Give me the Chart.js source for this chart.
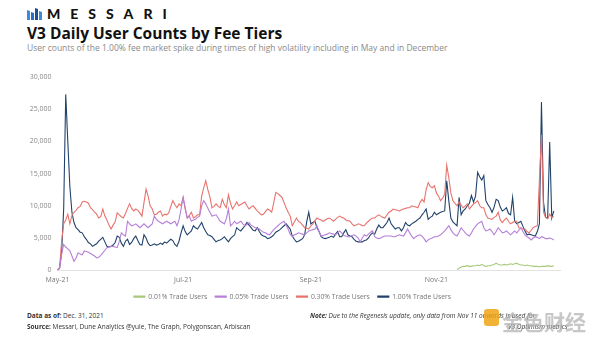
<!DOCTYPE html>
<html>
<head>
<meta charset="utf-8">
<script src="https://cdn.jsdelivr.net/npm/chart.js@4.4.1/dist/chart.umd.min.js"></script>
<style>
  body { margin: 0; background: #fff; font-family: "Open Sans", sans-serif; }
  #page { position: relative; width: 600px; height: 338px; overflow: hidden; }
  .abs { position: absolute; white-space: nowrap; }
  #brand { left: 47px; top: 5px; font: 900 14px Lato, sans-serif; letter-spacing: 10px; color: #111; }
  #title { left: 27px; top: 22px; font-weight: 700; font-size: 15.5px; color: #111; }
  #subtitle { left: 27px; top: 42px; font-size: 8.5px; color: #8a8a8a; }
  #chartBox { left: 0; top: 62px; width: 600px; height: 248px; }
  .foot { font-size: 6.5px; color: #333; }
  #wm { top: 306px; font: 700 21px "Noto Sans CJK SC", sans-serif; color: rgba(175,175,175,0.7); }
</style>
</head>
<body>
<div id="page">
  <svg class="abs" style="left:27px;top:8px" width="16" height="12" viewBox="0 0 16 12">
    <polygon points="0,2 3,3 3,12 0,12" fill="#3a8be0"/>
    <polygon points="4,4 7,5 7,12 4,12" fill="#2a6fc4"/>
    <polygon points="8,0 11,1 11,12 8,12" fill="#1c4f96"/>
    <polygon points="12,3 15,4 15,12 12,12" fill="#3a8be0"/>
  </svg>
  <div class="abs" id="brand">MESSARI</div>
  <div class="abs" id="title">V3 Daily User Counts by Fee Tiers</div>
  <div class="abs" id="subtitle">User counts of the 1.00% fee market spike during times of high volatility including in May and in December</div>
  <div class="abs" id="chartBox"><canvas id="chart"></canvas></div>
  <div class="abs foot" style="left:27px;top:311px"><b>Data as of:</b> Dec. 31, 2021</div>
  <div class="abs foot" style="left:27px;top:322px"><b>Source:</b> Messari, Dune Analytics @yule, The Graph, Polygonscan, Arbiscan</div>
  <div class="abs foot" style="left:310px;top:311px;font-style:italic"><b>Note:</b> Due to the Regenesis update, only data from Nov 11 onwards is used for</div>
  <div class="abs foot" style="left:508px;top:322px;font-style:italic">V3 Optimism metrics</div>
  <div class="abs" style="left:484px;top:309px;width:15px;height:17px;border-radius:3px;background:rgba(240,165,20,0.85)"></div>
  <div class="abs" id="wm" style="left:502px">金色财经</div>
</div>
<script>
const startDay = Date.UTC(2021, 4, 1);
const dayCount = 245; // May 1 - Dec 31
const tickDates = ["2021-05-01", "2021-07-01", "2021-09-01", "2021-11-01"];
const tickNames = ["May-21", "Jul-21", "Sep-21", "Nov-21"];
const yTicks = [0, 5000, 10000, 15000, 20000, 25000, 30000];

const seriesNames = ["0.01% Trade Users", "0.05% Trade Users", "0.30% Trade Users", "1.00% Trade Users"];
const seriesColors = ["#a6c97a", "#b67fd8", "#e8736d", "#21426b"];

// 0.01% tier only has data from Nov 11
const fee001Start = "2021-11-11";
const fee001 = [100,300,500,600,600,700,600,600,700,700,
  800,700,900,700,600,700,700,800,900,1100,
  900,800,800,900,800,900,1000,900,1000,1100,
  900,800,800,700,800,700,700,600,600,600,
  500,600,600,600,700,600,600,700];

const fee005 = [0,300,2500,4000,3600,3300,3000,2200,1400,1900,
  2700,2500,2400,3000,2900,2800,2600,2400,2200,1900,
  2000,2300,2700,3100,3500,3600,3700,3700,3600,3500,
  4500,5800,5500,5300,7600,7200,6900,7000,7200,6900,
  6600,6900,7200,6900,6600,6900,7200,8400,7900,7600,
  7400,7200,7400,7600,7400,7200,7400,7600,6900,7800,
  9500,11300,9700,8100,8400,7600,7800,7900,8200,8400,
  10000,10800,10300,9600,9000,8400,8500,8600,8100,7600,
  7400,7200,8000,9500,6900,7200,7600,7200,7400,7600,
  7200,6900,7100,7400,7000,6800,6600,6500,6400,6100,
  5900,5800,5600,5500,5900,6300,6600,6900,7200,7400,
  7600,7000,6400,5600,5200,5500,5600,5800,5700,5600,
  5500,5800,6100,6200,6300,6400,6900,6000,5300,5400,
  5500,5600,5800,5700,5600,5500,5800,6100,5800,5400,
  5300,5200,5200,5400,5500,5300,5000,4400,5000,5500,
  5300,5600,5900,6100,5200,5000,4900,5000,5200,5300,
  5300,5300,5300,5200,5200,5400,5500,5400,5300,5800,
  6400,5800,5300,4900,5200,5400,5500,5300,4900,4400,
  4700,4900,5000,5200,5200,5300,5500,5800,6100,6500,
  6900,6300,5800,5500,5300,5900,6600,6200,5800,5500,
  5300,5800,6400,6800,7200,7400,7600,6600,6100,6200,
  6400,6000,5500,6000,6600,6200,5800,5900,6100,5800,
  5500,5800,6100,5800,6200,6600,6000,5500,5200,5000,
  4700,5000,5200,5100,4900,5200,5100,4900,4900,5000,
  4900,4700];

const fee030 = [0,400,4500,7200,7800,8700,7200,8500,9000,9300,
  9700,9900,10600,10700,10600,10400,9700,9400,9000,8700,
  8100,8300,9500,8400,7800,7000,6400,7000,7500,8900,
  8600,8300,8100,8800,9600,10300,9600,9200,9500,9300,
  8900,8400,10500,12600,11500,10000,9500,8600,8700,9000,
  9200,8400,8700,8600,8900,9900,10800,10200,9700,10300,
  10000,11300,9500,8100,8500,9000,8100,8300,8600,8600,
  11500,12800,13900,12500,11400,9700,9900,10300,9900,9700,
  11000,10200,9700,11700,10400,9500,10000,10600,10000,10200,
  10400,10600,10000,9500,9800,10000,9600,9200,8900,8600,
  8700,9100,9500,9300,9000,10500,12100,11900,11600,11300,
  10500,9700,9000,8400,6900,7500,8100,7600,7400,7000,
  6600,6500,6400,6900,7200,7700,8100,7900,7800,7600,
  7800,8000,8100,7900,7600,7900,8200,8400,8200,8100,
  7800,7700,7600,7200,6900,7000,7200,7100,6900,6900,
  7300,7600,7900,8100,8100,8400,8600,8400,8200,8100,
  8600,9000,9200,9500,9400,9300,9200,9400,9500,9600,
  9700,9700,10000,9900,9800,9700,10500,11000,10600,12500,
  13600,13000,12800,13100,12000,11500,10800,11200,11800,16300,
  14400,12000,10800,10400,10000,10600,10100,9700,10000,10300,
  9500,9900,10300,10500,10800,10000,9700,9700,8600,8100,
  8000,7900,8200,8400,9000,7800,7400,7800,8100,7600,
  7200,7400,7600,7600,6600,6500,6400,6400,6000,5800,
  6200,6600,6800,6900,14000,21000,9000,8200,8000,8700,
  8200,8400];

const fee100 = [0,300,2700,9500,27300,20000,13000,9000,7400,6600,
  6300,5900,5800,5200,4800,4300,4100,3700,3900,4100,
  4500,4800,5100,4400,3700,3600,3700,3900,4300,5300,
  5100,4200,3700,4500,4800,4000,4300,4900,5300,4600,
  4000,3900,5500,5000,4200,3800,3900,4100,3900,4000,
  4200,4000,4400,4200,4500,4800,4600,4000,3700,4500,
  5800,6900,6000,5500,5800,6100,6900,6600,6400,6900,
  7400,6600,6000,5500,5400,5200,4800,4400,4600,4700,
  4900,5200,4800,4400,4900,5200,5500,6600,6300,6100,
  6500,6900,7400,7000,6600,6200,6100,6600,6000,5500,
  5300,5200,4900,5000,5200,5500,5900,6100,6300,6600,
  6900,7200,6800,6400,5300,4800,4400,4500,4700,4900,
  5500,7500,9000,7200,7400,7600,6600,6000,5200,5000,
  4900,5000,5100,5300,5100,5600,6000,5200,5200,5800,
  6300,5500,5300,5200,4800,4500,4400,4400,4400,4600,
  4700,5000,5500,5800,5600,6400,7000,6600,6600,7000,
  7400,8100,7200,6800,6400,6600,6600,6100,6600,7400,
  7000,6900,7200,7400,7600,7900,8100,8600,9000,9500,
  7900,8200,8400,9000,8600,8800,9000,9100,9200,13900,
  10800,8100,7500,7200,6900,11300,8600,9200,9500,10000,
  10400,11600,10600,11500,15200,14500,14000,14700,10800,10200,
  9700,9000,9800,11000,10800,9800,9200,9400,9700,8800,
  8600,11300,7600,7200,7400,7600,6800,6100,5500,5600,
  5500,5400,5300,6000,7200,26100,10500,8200,8100,19900,
  8100,9200];

const labels = [];
for (let i = 0; i < dayCount; i++) {
  labels.push(new Date(startDay + i * 86400000).toISOString().slice(0, 10));
}
const g0 = labels.indexOf(fee001Start);
const fee001Full = labels.map((l, i) => (i >= g0 && i - g0 < fee001.length) ? fee001[i - g0] : null);

const seriesData = [fee001Full, fee005, fee030, fee100];

const datasets = seriesNames.map((name, k) => ({
  label: name,
  data: seriesData[k],
  borderColor: seriesColors[k],
  backgroundColor: seriesColors[k],
  borderWidth: 1.1,
  pointRadius: 0,
  tension: 0
}));

const ctx = document.getElementById("chart").getContext("2d");
new Chart(ctx, {
  type: "line",
  data: { labels: labels, datasets: datasets },
  options: {
    responsive: true,
    maintainAspectRatio: false,
    animation: false,
    layout: { padding: { top: 15, right: 40, bottom: 0, left: 25 } },
    plugins: {
      tooltip: { enabled: false },
      legend: {
        position: "bottom",
        labels: {
          boxWidth: 11,
          boxHeight: 1,
          padding: 8,
          color: "#777",
          font: { family: "Open Sans", size: 6.8 }
        }
      }
    },
    scales: {
      x: {
        type: "category",
        offset: false,
        grid: { display: false, drawTicks: false },
        border: { display: true, color: "#e2e2e2" },
        ticks: {
          autoSkip: false,
          maxRotation: 0,
          padding: 6,
          color: "#777",
          font: { family: "Open Sans", size: 7 },
          callback: function (v, i) {
            const k = tickDates.indexOf(labels[i]);
            return k >= 0 ? tickNames[k] : null;
          }
        },
        afterFit: s => { s.height = 15; }
      },
      y: {
        min: 0,
        max: 30000,
        afterBuildTicks: s => { s.ticks = yTicks.map(v => ({ value: v })); },
        grid: { display: false, drawTicks: false },
        border: { display: false },
        ticks: {
          padding: 6,
          color: "#888",
          font: { family: "Open Sans", size: 7 },
          callback: v => v.toLocaleString("en-US")
        },
        afterFit: s => { s.width = 32.5; }
      }
    }
  }
});
</script>
</body>
</html>
